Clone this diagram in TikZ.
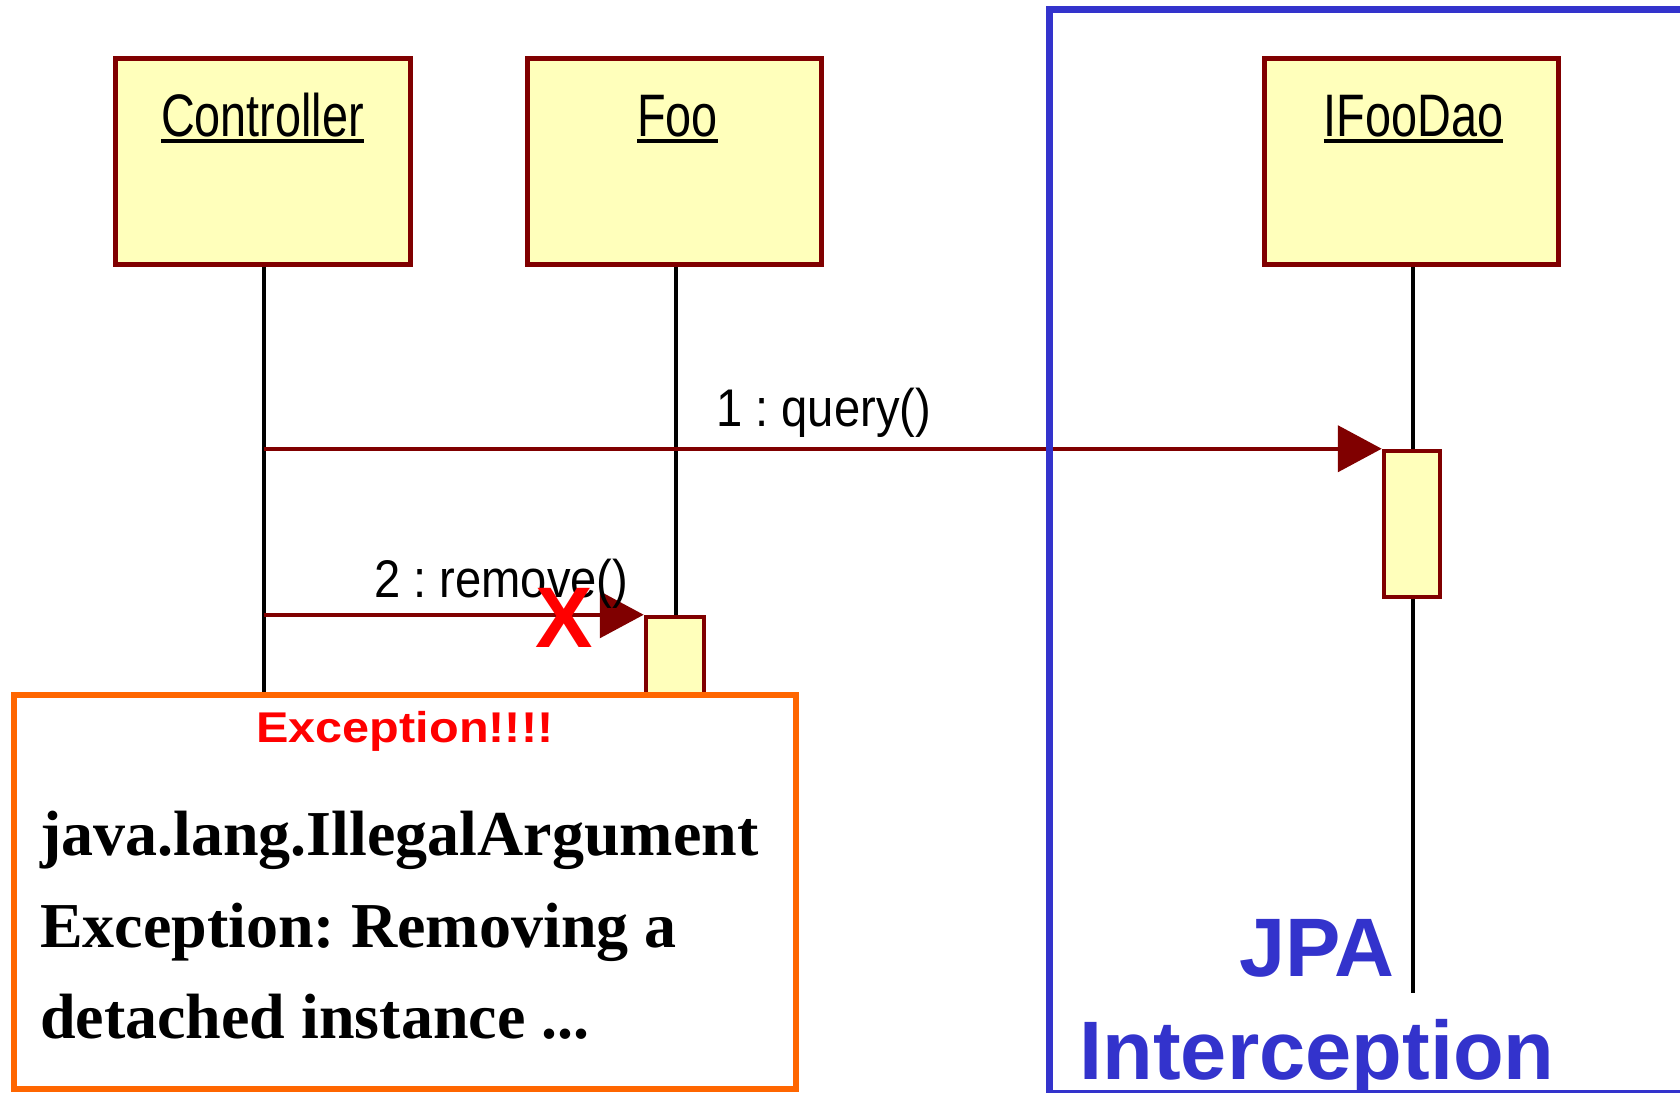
\documentclass[tikz,border=0pt]{standalone}
\usepackage{fontspec}
\setmainfont{Liberation Sans}
\newfontfamily\serifbold{Liberation Serif}
\usetikzlibrary{arrows.meta}
\frenchspacing
\definecolor{objred}{RGB}{128,0,0}
\definecolor{objfill}{RGB}{255,255,187}
\definecolor{jpablue}{RGB}{51,51,204}
\definecolor{excorange}{RGB}{255,102,0}
\definecolor{excred}{RGB}{255,0,0}
\newcommand{\ulabel}[1]{\setbox0=\hbox{#1}\leavevmode\rlap{\copy0}\raisebox{-7pt}[0pt][0pt]{\rule{\wd0}{4pt}}}
\tikzset{
  objbox/.style={draw=objred, fill=objfill, line width=5pt, inner sep=0pt},
  actbox/.style={draw=objred, fill=objfill, line width=4.5pt, inner sep=0pt},
  lifeline/.style={draw=black, line width=3.5pt},
  msg/.style={draw=objred, line width=4.5pt, -{Triangle[length=44pt,width=46pt]}},
  objname/.style={anchor=base, inner sep=0pt, font=\fontsize{60}{72}\selectfont},
  msglabel/.style={anchor=base west, inner sep=0pt, font=\fontsize{53}{64}\selectfont},
  excbox/.style={draw=excorange, fill=white, line width=6pt, inner sep=0pt},
  exctext/.style={anchor=base west, inner sep=0pt, font=\serifbold\bfseries\fontsize{64}{77}\selectfont},
  jpatext/.style={anchor=base, inner sep=0pt, text=jpablue, font=\bfseries\fontsize{83}{100}\selectfont},
}
\begin{document}
\begin{tikzpicture}[x=1pt,y=-1pt]
\useasboundingbox (0,0) rectangle (1680,1092);
\clip (0,0) rectangle (1680,1092);
\fill[white] (0,0) rectangle (1680,1092);

% object boxes
\node[objbox, minimum width=295pt, minimum height=206pt] (ctrl) at (262.5,161.5) {};
\node[objbox, minimum width=294pt, minimum height=206pt] (foo) at (674,161.5) {};
\node[objbox, minimum width=294pt, minimum height=206pt] (dao) at (1411,161.5) {};
\node[objname] (ctrlname) at (262.5,136) {\ulabel{\scalebox{0.78}[1]{Controller}}};
\node[objname] (fooname) at (677.5,136) {\ulabel{\scalebox{0.78}[1]{Foo}}};
\node[objname] (daoname) at (1413.5,136) {\ulabel{\scalebox{0.78}[1]{IFooDao}}};

% lifeline end points
\coordinate (ctrlend) at (264,720);
\coordinate (daoend) at (1413,993);

% lifelines
\draw[lifeline] (ctrl.south -| ctrlend) -- (ctrlend);
\draw[lifeline] (dao.south -| daoend) -- (daoend);

% activations
\node[actbox, minimum width=56pt, minimum height=146pt] (act1) at (1412,524) {};
\node[actbox, minimum width=58pt, minimum height=110pt] (act2) at (675,672) {};
\draw[lifeline] (foo.south -| 676,0) -- (act2.north -| 676,0);

% messages
\draw[msg] (ctrlend |- act1.north west) -- (act1.north west);
\draw[msg] (ctrlend |- act2.north west) -- (act2.north west);
\node[msglabel] (m1) at (716,426) {\scalebox{0.89}[1]{1 : query()}};
\node[msglabel] (m2) at (374,597) {\scalebox{0.89}[1]{2 : remove()}};
\node[anchor=base, inner sep=0pt, text=excred, font=\bfseries\fontsize{86}{100}\selectfont] (xmark) at (564.5,647) {X};

% exception box
\node[excbox, minimum width=782pt, minimum height=394pt] (exc) at (405,892) {};
\node[anchor=base, inner sep=0pt, text=excred, font=\bfseries\fontsize{43}{52}\selectfont] (exctitle) at (405,742) {\scalebox{1.13}[1]{Exception!!!!}};
\node[exctext] (exc1) at (40,855) {java.lang.IllegalArgument};
\node[exctext] (exc2) at (40,947) {Exception: Removing a};
\node[exctext] (exc3) at (40,1038) {detached instance ...};

% JPA interception frame
\draw[draw=jpablue, line width=7pt] (1049,9.5) rectangle (1720,1093.5);
\node[jpatext] (jpa1) at (1317,976) {JPA};
\node[jpatext] (jpa2) at (1317,1079) {Interception};
\end{tikzpicture}
\end{document}
